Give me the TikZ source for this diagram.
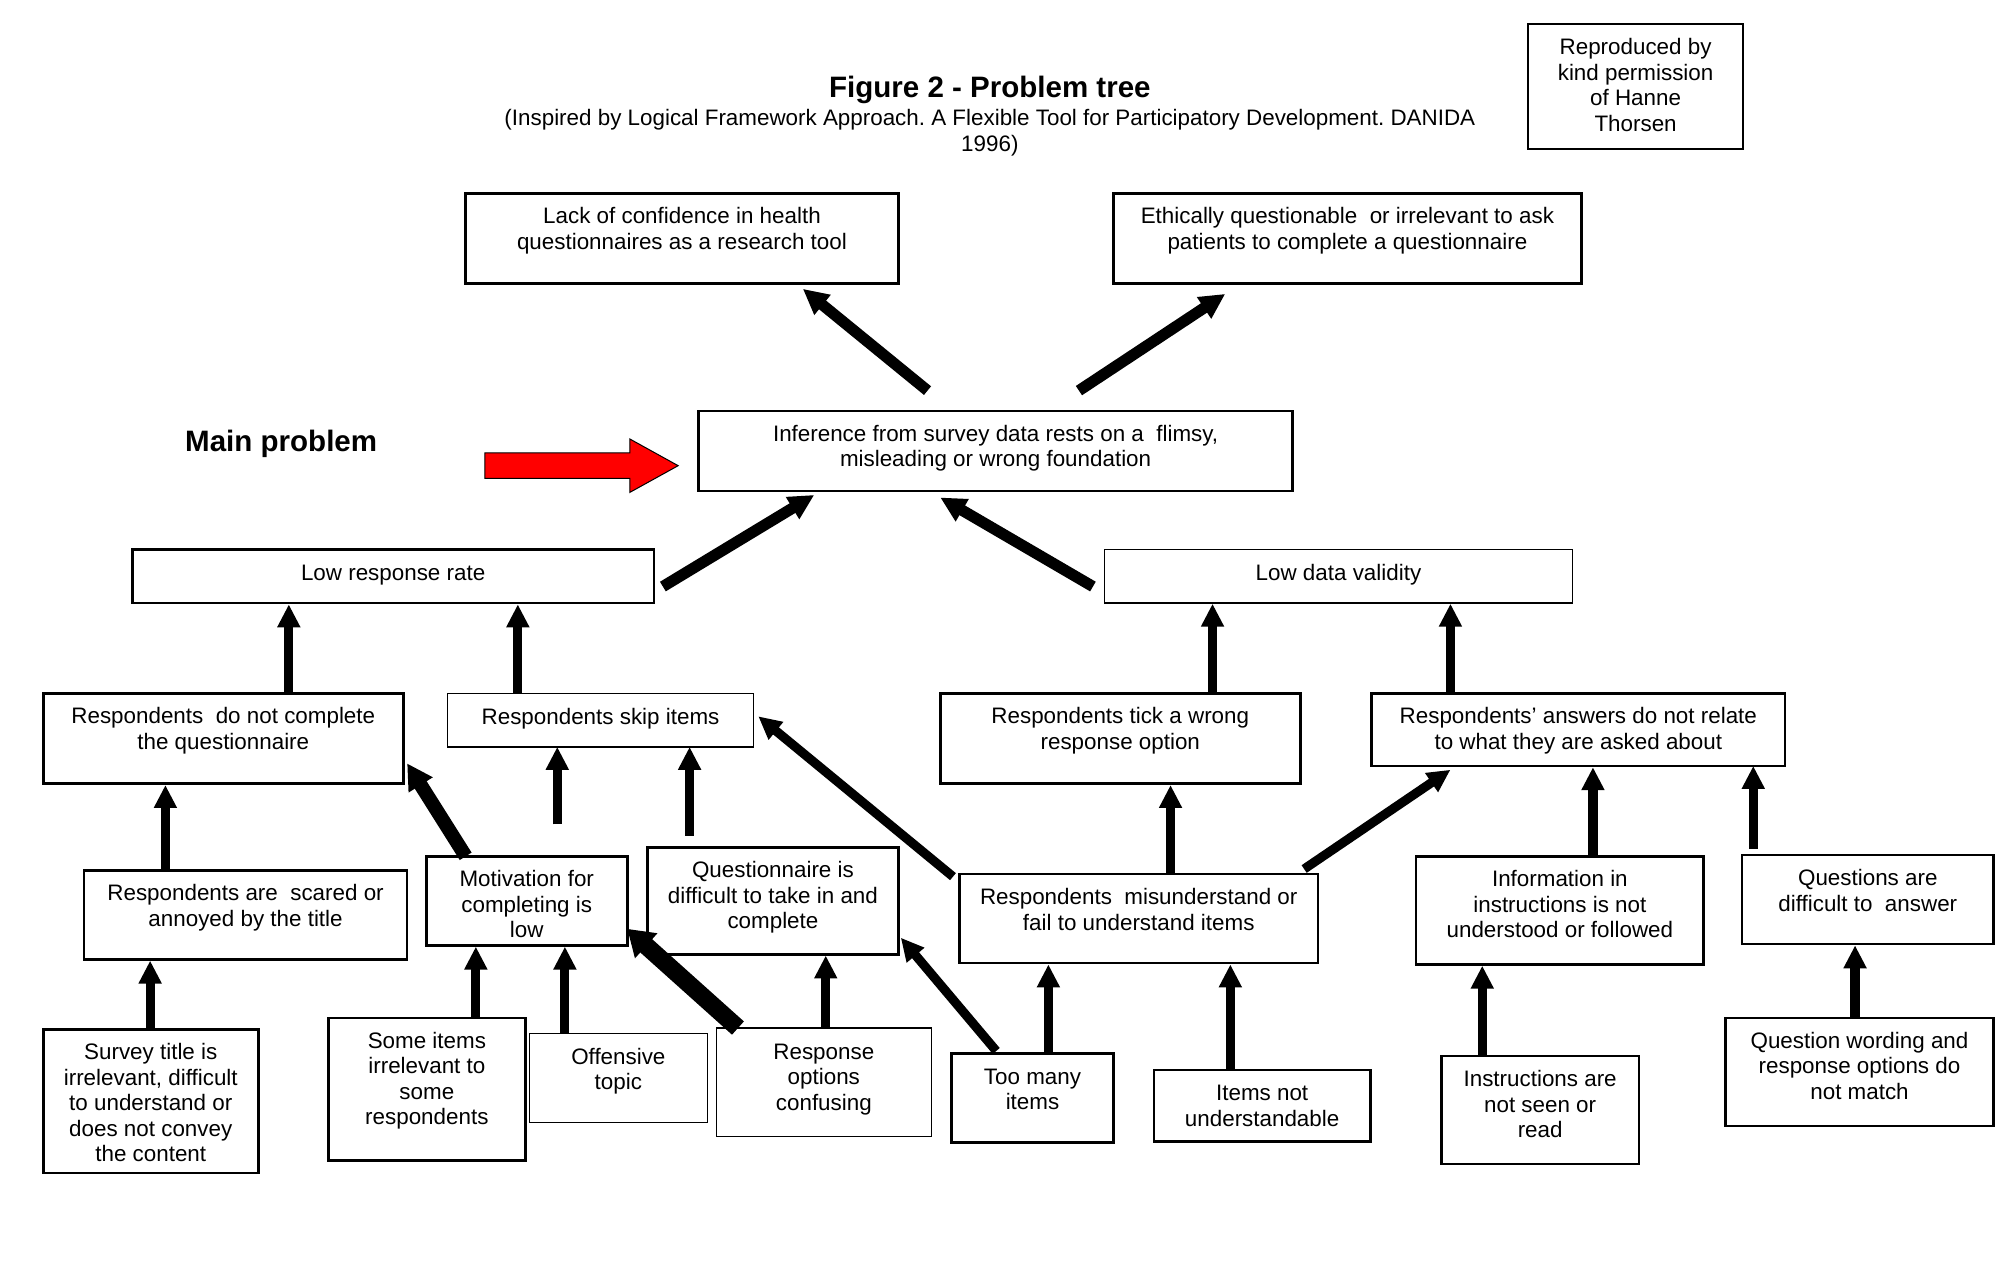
\documentclass[tikz,border=0pt]{standalone}
\usepackage{fontspec}
\setmainfont{Liberation Sans}
\usetikzlibrary{arrows.meta,fit}
\frenchspacing
\tikzset{
  box/.style={draw,line width=1pt,inner sep=0pt},
  thinbox/.style={draw,line width=0.5pt,inner sep=0pt},
  txt/.style={font=\fontsize{8.8}{10}\selectfont,align=center,inner sep=0pt},
  arr/.style={line width=3.6pt,-{Triangle[length=9pt,width=8.5pt]}},
  arrbig/.style={line width=4.4pt,-{Triangle[length=10pt,width=9.5pt]}},
  arrthick/.style={line width=5.5pt,-{Triangle[length=10pt,width=10.5pt]}},
  arrhuge/.style={line width=7pt,-{Triangle[length=10pt,width=12.5pt]}},
}
\newcommand\pbox[7][box]{%
  \node[#1,fit={(#3,#4) (#5,#6)}] (#2) {};
  \node[txt,anchor=north] (#2t) at ([yshift=-5.3pt]#2.north) {\strut #7};
}
\begin{document}
\begin{tikzpicture}[x=0.5pt,y=-0.5pt]
\useasboundingbox (0,0) rectangle (1568,998);

% titles
\node[font=\fontsize{11.6}{13}\selectfont\bfseries,inner sep=0pt,anchor=base] (title) at (778,77) {Figure 2 - Problem tree};
\node[txt,anchor=north] (subtitle) at (778,84.6) {\strut(Inspired by Logical Framework Approach. A Flexible Tool for Participatory Development. DANIDA\\1996)};
\node[font=\fontsize{11.6}{13}\selectfont\bfseries,inner sep=0pt,anchor=base] (mainlabel) at (221,355) {Main problem};

% boxes
\pbox{repro}{1201}{19}{1370}{117}{Reproduced by\\kind permission\\of Hanne\\Thorsen}
\pbox{lack}{366}{152}{706}{223}{Lack of confidence in health\\questionnaires as a research tool}
\pbox{ethic}{875}{152}{1243}{223}{Ethically questionable~ or irrelevant to ask\\patients to complete a questionnaire}
\pbox{infer}{549}{323}{1016}{386}{Inference from survey data rests on a~ flimsy,\\misleading or wrong foundation}
\pbox{lrr}{104}{432}{514}{474}{Low response rate}
\pbox[thinbox]{ldv}{868}{432}{1236}{474}{Low data validity}
\pbox{rdnc}{34}{545}{317}{616}{Respondents~ do not complete\\the questionnaire}
\pbox[thinbox]{rsi}{352}{545}{592}{587}{Respondents skip items}
\pbox{rtw}{739}{545}{1022}{616}{Respondents tick a wrong\\response option}
\pbox{rad}{1078}{545}{1403}{602}{Respondents’ answers do not relate\\to what they are asked about}
\pbox{rsc}{66}{684}{320}{754}{Respondents are~ scared or\\annoyed by the title}
\pbox{mot}{335}{673}{493}{743}{Motivation for\\completing is\\low}
\pbox{qdif}{509}{666}{706}{750}{Questionnaire is\\difficult to take in and\\complete}
\pbox{rmis}{754}{687}{1036}{757}{Respondents~ misunderstand or\\fail to understand items}
\pbox{info}{1113}{673}{1339}{758}{Information in\\instructions is not\\understood or followed}
\pbox{qda}{1369}{672}{1567}{742}{Questions are\\difficult to~ answer}
\pbox{stit}{34}{809}{203}{922}{Survey title is\\irrelevant, difficult\\to understand or\\does not convey\\the content}
\pbox{sii}{258}{800}{413}{912}{Some items\\irrelevant to\\some\\respondents}
\pbox[thinbox]{off}{416}{812}{556}{882}{Offensive\\topic}
\pbox[thinbox]{roc}{563}{808}{732}{893}{Response\\options\\confusing}
\pbox{tmi}{748}{828}{875}{898}{Too many\\items}
\pbox{inu}{907}{841}{1077}{897}{Items not\\understandable}
\pbox{ins}{1133}{830}{1288}{915}{Instructions are\\not seen or\\read}
\pbox{qwr}{1356}{800}{1567}{885}{Question wording and\\response options do\\not match}

% red arrow
\draw[fill=red,line width=0.4pt] (381,356) -- (495,356) -- (495,345) -- (533,366) -- (495,387) -- (495,376) -- (381,376) -- cycle;

% connector end points
\coordinate (a1s) at (729,307);  \coordinate (a1e) at (631,227);
\coordinate (a2s) at (848,307);  \coordinate (a2e) at (963,231);
\coordinate (a3s) at (521,461);  \coordinate (a3e) at (640,389);
\coordinate (a4s) at (859,461);  \coordinate (a4e) at (739,391);
\coordinate (a10s) at (366,673); \coordinate (a10e) at (320,600);
\coordinate (a11s) at (438,648); \coordinate (a11e) at (438,587);
\coordinate (a12s) at (542,657); \coordinate (a12e) at (542,587);
\coordinate (a13s) at (749,689); \coordinate (a13e) at (596,563);
\coordinate (a15s) at (1025,683); \coordinate (a15e) at (1140,605);
\coordinate (a17s) at (1378,667); \coordinate (a17e) at (1378,602);
\coordinate (a21s) at (580,808); \coordinate (a21e) at (493,730);
\coordinate (a23s) at (783,826); \coordinate (a23e) at (708,737);

\draw[arrbig] (a1s) -- (a1e);
\draw[arrbig] (a2s) -- (a2e);
\draw[arrbig] (a3s) -- (a3e);
\draw[arrbig] (a4s) -- (a4e);
\draw[arr] (rdnc.north -| 227,0) -- (lrr.south -| 227,0);
\draw[arr] (rsi.north -| 407,0) -- (lrr.south -| 407,0);
\draw[arr] (rtw.north -| 953,0) -- (ldv.south -| 953,0);
\draw[arr] (rad.north -| 1140,0) -- (ldv.south -| 1140,0);
\draw[arr] (rsc.north -| 130,0) -- (rdnc.south -| 130,0);
\draw[arrthick] (a10s) -- (a10e);
\draw[arr] (a11s) -- (a11e);
\draw[arr] (a12s) -- (a12e);
\draw[arr] (a13s) -- (a13e);
\draw[arr] (rmis.north -| 920,0) -- (rtw.south -| 920,0);
\draw[arr] (a15s) -- (a15e);
\draw[arr] (info.north -| 1252,0) -- (rad.south -| 1252,0);
\draw[arr] (a17s) -- (a17e);
\draw[arr] (stit.north -| 118,0) -- (rsc.south -| 118,0);
\draw[arr] (sii.north -| 374,0) -- (mot.south -| 374,0);
\draw[arr] (off.north -| 444,0) -- (mot.south -| 444,0);
\draw[arrhuge] (a21s) -- (a21e);
\draw[arr] (roc.north -| 649,0) -- (qdif.south -| 649,0);
\draw[arr] (a23s) -- (a23e);
\draw[arr] (tmi.north -| 824,0) -- (rmis.south -| 824,0);
\draw[arr] (inu.north -| 967,0) -- (rmis.south -| 967,0);
\draw[arr] (ins.north -| 1165,0) -- (info.south -| 1165,0);
\draw[arr] (qwr.north -| 1458,0) -- (qda.south -| 1458,0);
\end{tikzpicture}
\end{document}
